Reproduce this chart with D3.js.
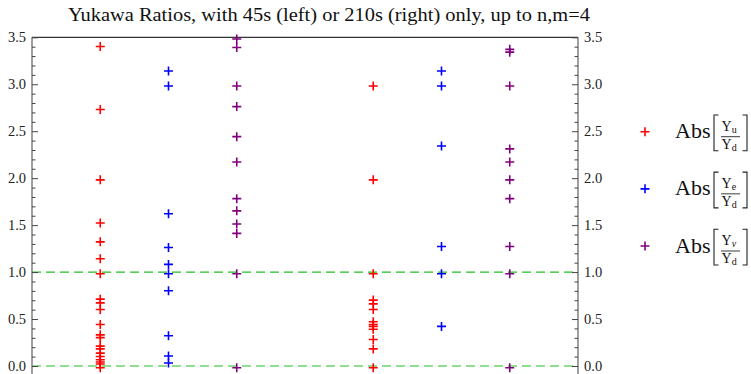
<!DOCTYPE html>
<html>
<head>
<meta charset="utf-8">
<script src="https://cdn.jsdelivr.net/npm/d3@7"></script>
<style>
  html, body { margin: 0; padding: 0; background: #fff; }
  svg { display: block; font-family: "Liberation Serif", "Times New Roman", serif; }
</style>
</head>
<body>
<svg id="chart" width="751" height="374"></svg>
<script>
// ---------- data ----------
const title = "Yukawa Ratios, with 45s (left) or 210s (right) only, up to n,m=4";
const columnPositions = [1, 2, 3, 5, 6, 7];           // x positions of the six columns
const columnSeries = ["u", "e", "nu", "u", "e", "nu"];  // which ratio each column holds
const redLeft    = [3.42, 2.75, 2.0, 1.54, 1.34, 1.16, 1.0, 0.73, 0.69, 0.62, 0.46, 0.35, 0.32, 0.23, 0.20, 0.155, 0.12, 0.085, 0.06, 0.04, 0.0];
const blueLeft   = [3.16, 3.0, 1.64, 1.28, 1.10, 1.0, 0.82, 0.34, 0.125, 0.05];
const purpleLeft = [3.5, 3.41, 3.0, 2.78, 2.46, 2.19, 1.80, 1.67, 1.53, 1.43, 1.0, 0.0];
const redRight    = [3.0, 2.0, 1.0, 0.72, 0.68, 0.62, 0.49, 0.46, 0.44, 0.41, 0.30, 0.20, 0.0];
const blueRight   = [3.16, 3.0, 2.36, 1.29, 1.0, 0.44];
const purpleRight = [3.39, 3.36, 3.0, 2.33, 2.19, 2.0, 1.80, 1.29, 1.0, 0.0];
const columnValues = [redLeft, blueLeft, purpleLeft, redRight, blueRight, purpleRight];
const referenceLines = [0, 1];
const majorTicks = [0, 0.5, 1.0, 1.5, 2.0, 2.5, 3.0, 3.5];
const minorTicks = d3.range(0, 36).map(i => i / 10).filter(v => Math.abs(v * 2 - Math.round(v * 2)) > 1e-6);
const legendSeries = ["u", "e", "nu"];
const legendSubs = { u: "u", e: "e", nu: "ν" };

// ---------- style ----------
const colors = { u: "#ff0000", e: "#0000ff", nu: "#800080" };
const glyphDy = 1.7;

const svg = d3.select("#chart");
const x = d3.scaleLinear().domain([0, 8]).range([32, 578]);
const y = d3.scaleLinear().domain([0, 3.5]).range([366, 37.3]);

// title
svg.append("text").attr("x", 68).attr("y", 20.5).attr("text-anchor", "start")
  .attr("font-size", 19).attr("textLength", 522).attr("lengthAdjust", "spacingAndGlyphs")
  .attr("fill", "#111").text(title);

// reference dashed lines
svg.selectAll("line.ref").data(referenceLines).join("line").attr("class", "ref")
  .attr("x1", x(0)).attr("x2", x(8)).attr("y1", d => y(d)).attr("y2", d => y(d))
  .attr("stroke", "#22c022").attr("stroke-width", 1.2).attr("stroke-dasharray", "9,5");

// frame
svg.append("line").attr("x1", x(0)).attr("x2", x(8)).attr("y1", y(3.5)).attr("y2", y(3.5))
  .attr("stroke", "#000").attr("stroke-width", 1);
[0, 8].forEach(v => {
  svg.append("line").attr("x1", x(v)).attr("x2", x(v)).attr("y1", y(3.5)).attr("y2", 374)
    .attr("stroke", "#777").attr("stroke-width", 1.4);
});

function styleAxis(g) {
  g.select(".domain").remove();
  g.selectAll(".tick line").attr("stroke", "#444").attr("stroke-width", 1);
  g.selectAll(".tick text").attr("font-family", "Liberation Serif, serif").attr("font-size", 14.5).attr("fill", "#222");
}
// left axis
svg.append("g").attr("transform", `translate(${x(0)},0)`)
  .call(d3.axisLeft(y).tickValues(majorTicks).tickSize(-6).tickPadding(6).tickFormat(d3.format(".1f")))
  .call(styleAxis);
svg.append("g").attr("transform", `translate(${x(0)},0)`)
  .call(d3.axisLeft(y).tickValues(minorTicks).tickSize(-3.5).tickFormat(""))
  .call(styleAxis);
// right axis
svg.append("g").attr("transform", `translate(${x(8)},0)`)
  .call(d3.axisRight(y).tickValues(majorTicks).tickSize(-6).tickPadding(6).tickFormat(d3.format(".1f")))
  .call(styleAxis);
svg.append("g").attr("transform", `translate(${x(8)},0)`)
  .call(d3.axisRight(y).tickValues(minorTicks).tickSize(-3.5).tickFormat(""))
  .call(styleAxis);

// markers
const plus = "M-4.5,0H4.5M0,-4.5V4.5";
const pts = [];
columnValues.forEach((vals, i) => vals.forEach(v => pts.push({ x: columnPositions[i], v, s: columnSeries[i] })));
svg.append("g").selectAll("path").data(pts).join("path")
  .attr("d", plus)
  .attr("transform", d => `translate(${x(d.x)},${y(d.v) + glyphDy})`)
  .attr("stroke", d => colors[d.s]).attr("stroke-width", 1.6).attr("fill", "none");

// legend
const legendY = d3.scalePoint().domain(legendSeries).range([131.7, 246]);
const lg = svg.append("g");
legendSeries.forEach(s => {
  const c = legendY(s);
  const g = lg.append("g").attr("transform", `translate(0,${c})`);
  g.append("path").attr("d", plus).attr("transform", "translate(645,0)")
    .attr("stroke", colors[s]).attr("stroke-width", 1.6).attr("fill", "none");
  g.append("text").attr("x", 675).attr("y", 6.5).attr("font-size", 22).attr("fill", "#111").text("Abs");
  g.append("path").attr("d", "M718.5,-16.7H714V19H718.5").attr("stroke", "#222").attr("stroke-width", 1.1).attr("fill", "none");
  g.append("path").attr("d", "M742.5,-16.7H747V19H742.5").attr("stroke", "#222").attr("stroke-width", 1.1).attr("fill", "none");
  const num = g.append("text").attr("x", 721.5).attr("y", -1).attr("font-size", 14).attr("fill", "#111");
  num.append("tspan").text("Y");
  num.append("tspan").attr("font-size", 10).attr("dy", 2).attr("font-style", s === "nu" ? "italic" : "normal").text(legendSubs[s]);
  g.append("line").attr("x1", 721).attr("x2", 740).attr("y1", 5).attr("y2", 5).attr("stroke", "#222").attr("stroke-width", 0.9);
  const den = g.append("text").attr("x", 721.5).attr("y", 17.3).attr("font-size", 14).attr("fill", "#111");
  den.append("tspan").text("Y");
  den.append("tspan").attr("font-size", 10).attr("dy", 2).text("d");
});
</script>
</body>
</html>
